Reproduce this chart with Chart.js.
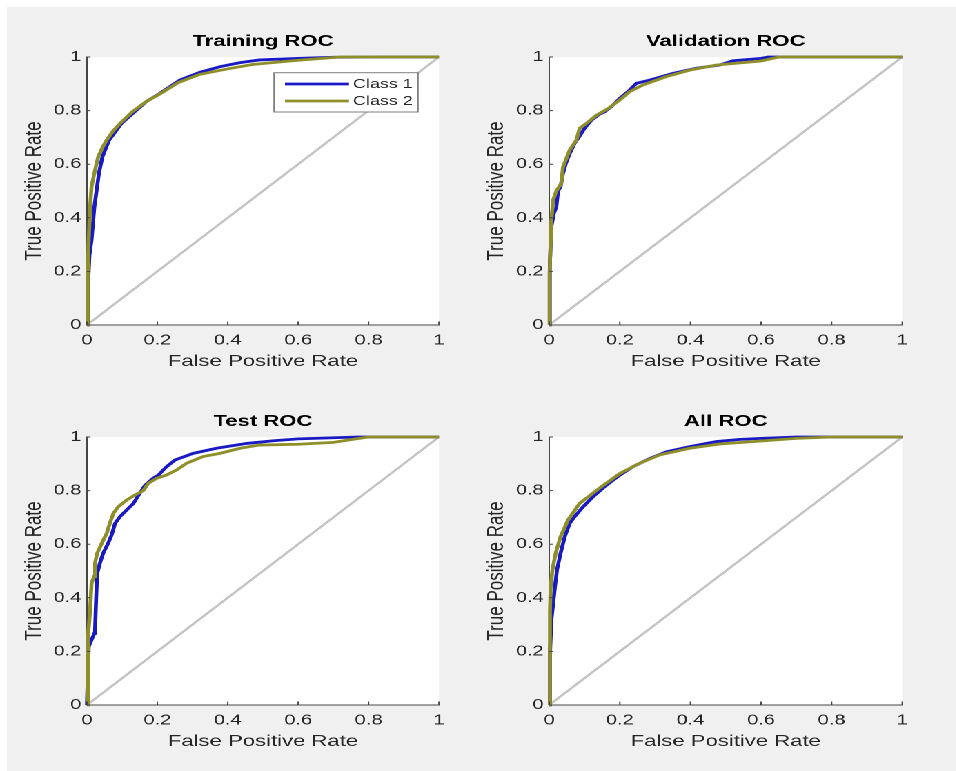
<!DOCTYPE html>
<html lang="en">
  <head>
    <meta charset="UTF-8" />
    <title>ROC Curves</title>
    <script src="https://cdn.jsdelivr.net/npm/chart.js"></script>
    <style>
      body { margin: 0; background: #fff; width: 956px; height: 771px; overflow: hidden; }
      #bg { position: absolute; left: 7px; top: 7px; width: 949px; height: 764px; background: #f0f0f0; }
      /* the figure is drawn narrow and stretched sideways, like the source image */
      #fig { position: absolute; left: 0; top: 0; width: 693px; height: 771px;
             transform: scaleX(1.38); transform-origin: 0 0; }
      #fig canvas { position: absolute; }
    </style>
  </head>
  <body>
    <div id="bg"></div>
    <div id="fig">
      <canvas id="trainChart" width="340" height="385" style="left:0px;top:0px"></canvas>
      <canvas id="valChart" width="340" height="385" style="left:334.8px;top:0px"></canvas>
      <canvas id="testChart" width="340" height="385" style="left:0px;top:380px"></canvas>
      <canvas id="allChart" width="340" height="385" style="left:334.8px;top:380px"></canvas>
    </div>
    <script>
      const classNames = ["Class 1", "Class 2"];
      const tickValues = [0, 0.2, 0.4, 0.6, 0.8, 1];
      const tickLabels = ["0", "0.2", "0.4", "0.6", "0.8", "1"];

      // Training
      const trainFpr1 = [0, 0.003, 0.007, 0.013, 0.021, 0.034, 0.044, 0.063, 0.08, 0.098, 0.136, 0.17, 0.207, 0.264, 0.321, 0.378, 0.435, 0.49, 0.6, 0.7, 0.85, 1];
      const trainTpr1 = [0, 0.15, 0.26, 0.317, 0.44, 0.566, 0.628, 0.69, 0.72, 0.752, 0.796, 0.835, 0.864, 0.914, 0.943, 0.964, 0.979, 0.989, 0.995, 0.999, 1, 1];
      const trainFpr2 = [0, 0.002, 0.005, 0.009, 0.013, 0.021, 0.032, 0.045, 0.056, 0.075, 0.094, 0.13, 0.17, 0.207, 0.26, 0.32, 0.397, 0.47, 0.6, 0.72, 1];
      const trainTpr2 = [0, 0.2, 0.317, 0.44, 0.516, 0.566, 0.628, 0.665, 0.69, 0.725, 0.752, 0.797, 0.835, 0.862, 0.905, 0.935, 0.955, 0.972, 0.988, 1, 1];

      // Validation
      const valFpr1 = [0, 0.001, 0.002, 0.006, 0.013, 0.02, 0.025, 0.032, 0.039, 0.047, 0.058, 0.072, 0.085, 0.1, 0.12, 0.14, 0.157, 0.176, 0.2, 0.223, 0.247, 0.285, 0.351, 0.417, 0.483, 0.52, 0.6, 0.62, 0.86, 1];
      const valTpr1 = [0, 0.15, 0.22, 0.367, 0.417, 0.44, 0.5, 0.516, 0.566, 0.603, 0.64, 0.678, 0.703, 0.734, 0.765, 0.785, 0.796, 0.815, 0.846, 0.871, 0.902, 0.914, 0.939, 0.958, 0.97, 0.986, 0.995, 1, 1, 1];
      const valFpr2 = [0, 0.001, 0.006, 0.011, 0.02, 0.034, 0.039, 0.058, 0.077, 0.086, 0.105, 0.134, 0.167, 0.2, 0.228, 0.266, 0.332, 0.398, 0.474, 0.6, 0.65, 1];
      const valTpr2 = [0, 0.19, 0.39, 0.466, 0.5, 0.528, 0.59, 0.653, 0.69, 0.734, 0.752, 0.783, 0.808, 0.84, 0.871, 0.896, 0.927, 0.951, 0.97, 0.985, 1, 1];

      // Test
      const testFpr1 = [0, 0.005, 0.013, 0.021, 0.023, 0.026, 0.029, 0.037, 0.046, 0.06, 0.07, 0.08, 0.094, 0.113, 0.132, 0.15, 0.165, 0.188, 0.203, 0.226, 0.25, 0.302, 0.368, 0.454, 0.53, 0.6, 0.77, 1];
      const testTpr1 = [0, 0.218, 0.243, 0.267, 0.28, 0.392, 0.49, 0.53, 0.566, 0.603, 0.634, 0.678, 0.703, 0.728, 0.752, 0.79, 0.82, 0.846, 0.858, 0.889, 0.914, 0.939, 0.958, 0.976, 0.986, 0.993, 1, 1];
      const testFpr2 = [0, 0.003, 0.009, 0.013, 0.02, 0.023, 0.029, 0.042, 0.056, 0.065, 0.075, 0.089, 0.113, 0.136, 0.16, 0.174, 0.198, 0.226, 0.255, 0.283, 0.33, 0.378, 0.435, 0.49, 0.6, 0.7, 0.75, 0.8, 1];
      const testTpr2 = [0, 0.255, 0.354, 0.454, 0.479, 0.53, 0.566, 0.603, 0.64, 0.678, 0.715, 0.74, 0.765, 0.783, 0.8, 0.827, 0.846, 0.858, 0.877, 0.902, 0.927, 0.939, 0.958, 0.97, 0.973, 0.98, 0.99, 1, 1];

      // All
      const allFpr1 = [0, 0.002, 0.006, 0.016, 0.022, 0.032, 0.044, 0.058, 0.072, 0.096, 0.124, 0.157, 0.2, 0.237, 0.285, 0.332, 0.398, 0.474, 0.54, 0.6, 0.7, 1];
      const allTpr1 = [0, 0.19, 0.317, 0.44, 0.504, 0.566, 0.628, 0.678, 0.703, 0.74, 0.777, 0.815, 0.858, 0.889, 0.92, 0.945, 0.964, 0.983, 0.991, 0.995, 1, 1];
      const allFpr2 = [0, 0.002, 0.004, 0.009, 0.018, 0.032, 0.053, 0.086, 0.148, 0.2, 0.256, 0.313, 0.398, 0.483, 0.6, 0.7, 0.8, 1];
      const allTpr2 = [0, 0.35, 0.44, 0.504, 0.566, 0.628, 0.69, 0.752, 0.815, 0.864, 0.902, 0.933, 0.958, 0.974, 0.985, 0.995, 1, 1];

      const fontFamily = "'Liberation Sans', Arial, Helvetica, sans-serif";
      const textColor = "#262626";
      const axisColor = "#474747";
      const blue = "#1a1ac4";
      const olive = "#8f8f2a";

      function toPoints(xs, ys) {
        return xs.map((x, i) => ({ x: x, y: ys[i] }));
      }

      function tickText(value) {
        const i = tickValues.indexOf(value);
        return i >= 0 ? tickLabels[i] : "";
      }

      // white plot box behind the data
      const plotBackground = {
        id: "plotBackground",
        beforeDraw(chart) {
          const { ctx, chartArea } = chart;
          ctx.save();
          ctx.fillStyle = "#ffffff";
          ctx.fillRect(chartArea.left, chartArea.top, chartArea.width, chartArea.height);
          ctx.restore();
        },
      };

      // MATLAB style tick marks pointing into the plot
      const innerTicks = {
        id: "innerTicks",
        afterDatasetsDraw(chart) {
          const { ctx } = chart;
          const xs = chart.scales.x;
          const ys = chart.scales.y;
          ctx.save();
          ctx.strokeStyle = axisColor;
          ctx.lineWidth = 1;
          ctx.beginPath();
          xs.ticks.forEach((t) => {
            const px = xs.getPixelForValue(t.value);
            ctx.moveTo(px, xs.top);
            ctx.lineTo(px, xs.top - 3.5);
          });
          ys.ticks.forEach((t) => {
            const py = ys.getPixelForValue(t.value);
            ctx.moveTo(ys.right, py);
            ctx.lineTo(ys.right + 2.6, py);
          });
          ctx.stroke();
          ctx.restore();
        },
      };

      // boxed legend in the top right corner of the plot
      const rocLegend = {
        id: "rocLegend",
        afterDraw(chart, args, opts) {
          if (!opts.show) return;
          const { ctx, chartArea } = chart;
          const w = 104.3, h = 39.3;
          const left = chartArea.right - 15.2 - w;
          const top = chartArea.top + 15.7;
          ctx.save();
          ctx.fillStyle = "#ffffff";
          ctx.fillRect(left, top, w, h);
          ctx.strokeStyle = "#808080";
          ctx.lineWidth = 1;
          ctx.strokeRect(left, top, w, h);
          ctx.font = "13px " + fontFamily;
          ctx.textBaseline = "middle";
          ctx.fillStyle = textColor;
          chart.data.datasets.slice(1).forEach((ds, i) => {
            const y = top + 11.3 + i * 17;
            ctx.strokeStyle = ds.borderColor;
            ctx.lineWidth = 2.8;
            ctx.beginPath();
            ctx.moveTo(left + 7.9, y);
            ctx.lineTo(left + 54.3, y);
            ctx.stroke();
            ctx.fillText(ds.label, left + 57.2, y + 0.5);
          });
          ctx.restore();
        },
      };

      function makeRoc(canvasId, titleText, fpr1, tpr1, fpr2, tpr2, padRight, showLegend) {
        const ctx = document.getElementById(canvasId).getContext("2d");
        return new Chart(ctx, {
          type: "line",
          data: {
            datasets: [
              {
                label: "diagonal",
                data: toPoints([0, 1], [0, 1]),
                borderColor: "#c4c4c4",
                borderWidth: 2,
                pointRadius: 0,
                order: 3,
              },
              {
                label: classNames[0],
                data: toPoints(fpr1, tpr1),
                borderColor: blue,
                borderWidth: 2.8,
                pointRadius: 0,
                clip: false,
                order: 2,
              },
              {
                label: classNames[1],
                data: toPoints(fpr2, tpr2),
                borderColor: olive,
                borderWidth: 2.8,
                pointRadius: 0,
                clip: false,
                order: 1,
              },
            ],
          },
          options: {
            responsive: false,
            animation: false,
            devicePixelRatio: 2,
            layout: { padding: { left: 0, right: padRight, top: 0, bottom: 14 } },
            elements: { line: { tension: 0 } },
            scales: {
              x: {
                type: "linear",
                min: 0,
                max: 1,
                afterBuildTicks: (scale) => {
                  scale.ticks = tickValues.map((v) => ({ value: v }));
                },
                afterFit: (scale) => {
                  scale.height = 46;
                },
                ticks: {
                  padding: 7,
                  color: textColor,
                  font: { family: fontFamily, size: 14.5 },
                  maxRotation: 0,
                  autoSkip: false,
                  callback: tickText,
                },
                grid: { display: false, drawTicks: false },
                border: { display: true, color: axisColor, width: 1 },
                title: {
                  display: true,
                  text: "False Positive Rate",
                  color: textColor,
                  font: { family: fontFamily, size: 16 },
                  padding: { top: 0, bottom: 0 },
                },
              },
              y: {
                type: "linear",
                min: 0,
                max: 1,
                afterBuildTicks: (scale) => {
                  scale.ticks = tickValues.map((v) => ({ value: v }));
                },
                afterFit: (scale) => {
                  scale.width = 63;
                },
                ticks: {
                  padding: 4,
                  color: textColor,
                  font: { family: fontFamily, size: 14.5 },
                  autoSkip: false,
                  callback: tickText,
                },
                grid: { display: false, drawTicks: false },
                border: { display: true, color: axisColor, width: 1 },
                title: {
                  display: true,
                  text: "True Positive Rate",
                  color: textColor,
                  font: { family: fontFamily, size: 17 },
                  padding: { top: 14.7, bottom: 0 },
                },
              },
            },
            plugins: {
              legend: { display: false },
              tooltip: { enabled: false },
              title: {
                display: true,
                text: titleText,
                fullSize: false,
                color: "#000000",
                font: { family: fontFamily, size: 16, weight: "bold" },
                padding: { top: 31.8, bottom: 6 },
              },
              rocLegend: { show: showLegend },
            },
          },
          plugins: [plotBackground, innerTicks, rocLegend],
        });
      }

      makeRoc("trainChart", "Training ROC", trainFpr1, trainTpr1, trainFpr2, trainTpr2, 21.9, true);
      makeRoc("valChart", "Validation ROC", valFpr1, valTpr1, valFpr2, valTpr2, 21.2, false);
      makeRoc("testChart", "Test ROC", testFpr1, testTpr1, testFpr2, testTpr2, 21.9, false);
      makeRoc("allChart", "All ROC", allFpr1, allTpr1, allFpr2, allTpr2, 21.2, false);
    </script>
  </body>
</html>
